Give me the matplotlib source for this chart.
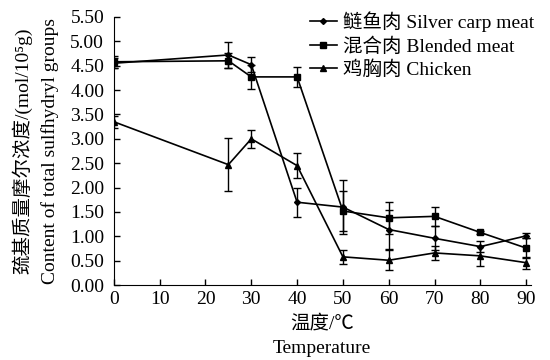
import matplotlib
matplotlib.use("Agg")
import matplotlib.pyplot as plt
from matplotlib.lines import Line2D
from matplotlib.ticker import FormatStrFormatter

plt.rcParams['font.family'] = ['Liberation Serif', 'Noto Sans CJK SC']

temps = [0, 25, 30, 40, 50, 60, 70, 80, 90]
silver = [4.55, 4.72, 4.52, 1.70, 1.60, 1.14, 0.96, 0.79, 1.01]
silver_err = [0.10, 0.27, 0.15, 0.30, 0.55, 0.40, 0.25, 0.12, 0.05]
blended = [4.58, 4.60, 4.27, 4.27, 1.52, 1.38, 1.41, 1.08, 0.76]
blended_err = [0.12, 0.15, 0.25, 0.20, 0.40, 0.33, 0.20, 0.04, 0.20]
chicken = [3.35, 2.47, 3.00, 2.45, 0.58, 0.51, 0.66, 0.60, 0.46]
chicken_err = [0.12, 0.55, 0.18, 0.25, 0.15, 0.20, 0.15, 0.20, 0.12]

labels = ['鲢鱼肉 Silver carp meat', '混合肉 Blended meat', '鸡胸肉 Chicken']
markers = ['D', 's', '^']
msizes = [3, 4.5, 4.5]
yticks = [0.0, 0.5, 1.0, 1.5, 2.0, 2.5, 3.0, 3.5, 4.0, 4.5, 5.0, 5.5]
xticks = [0, 10, 20, 30, 40, 50, 60, 70, 80, 90]

FS = 14
fig = plt.figure(figsize=(5.5, 3.6), dpi=100)
ax = fig.add_axes([0.207, 0.208, 0.758, 0.745])

kw = dict(color='black', lw=1.2, capsize=3, elinewidth=1.0, capthick=1.0)
handles = []
for y, e, m, s, lab in zip([silver, blended, chicken],
                           [silver_err, blended_err, chicken_err],
                           markers, msizes, labels):
    ax.errorbar(temps, y, yerr=e, marker=m, ms=s, **kw)
    handles.append(Line2D([], [], color='black', lw=1.2, marker=m, ms=s, label=lab))

ax.set_xlim(0, 91)
ax.set_ylim(0, 5.5)
ax.set_xticks(xticks)
ax.set_yticks(yticks)
ax.yaxis.set_major_formatter(FormatStrFormatter('%.2f'))
ax.tick_params(direction='in', labelsize=FS, length=4, width=1)
ax.tick_params(axis='y', pad=7)
ax.tick_params(axis='x', pad=4)
ax.spines['top'].set_visible(False)
ax.spines['right'].set_visible(False)

ax.set_xlabel('温度/℃\nTemperature', fontsize=FS, linespacing=1.6, labelpad=5)
ax.set_ylabel('巯基质量摩尔浓度/(mol/10⁵g)\nContent of total sulfhydryl groups',
              fontsize=FS, linespacing=1.6, labelpad=8)

ax.legend(handles=handles, loc='upper left', bbox_to_anchor=(0.47, 1.02), frameon=False,
          fontsize=FS, handlelength=1.4, handletextpad=0.3, labelspacing=0.25, borderaxespad=0,
          borderpad=0)

fig.savefig('out.png', dpi=100)
